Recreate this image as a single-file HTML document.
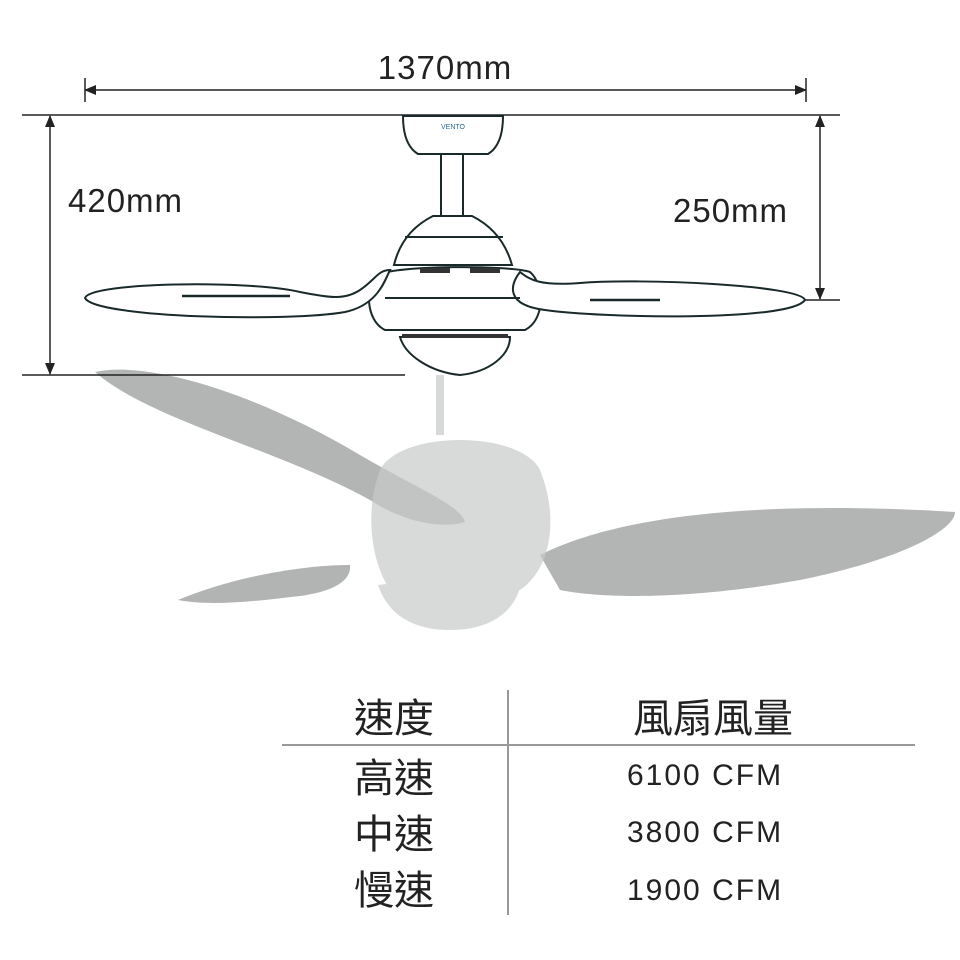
<!DOCTYPE html>
<html><head><meta charset="utf-8"><style>
html,body{margin:0;padding:0;background:#fff;}
svg{display:block}
text{font-family:"Liberation Sans","Noto Sans CJK TC",sans-serif;fill:#222}
</style></head><body>
<svg width="960" height="960" viewBox="0 0 960 960" xmlns="http://www.w3.org/2000/svg">
<defs>
<marker id="a" markerWidth="12" markerHeight="10" refX="11" refY="5" orient="auto-start-reverse" markerUnits="userSpaceOnUse">
<path d="M0,0 L12,5 L0,10 z" fill="#222"/></marker>
</defs>
<!-- ghost fan -->
<g fill="#a4a8a6" opacity="0.85">
<path d="M95,372 C150,360 260,395 360,455 C420,490 460,505 465,522 C440,530 400,520 370,500 C280,450 150,420 95,372 Z"/>
<path d="M540,555 C620,515 760,500 955,512 C955,530 900,560 800,580 C700,598 610,600 560,590 Z"/>
<path d="M178,600 C230,578 300,565 350,565 C352,582 330,592 300,596 C250,602 210,606 178,600 Z"/>
</g>
<g fill="#c8cbca" opacity="0.7">
<path d="M380,470 C400,430 520,430 540,470 C560,520 550,570 520,590 C480,600 420,600 390,590 C370,560 365,510 380,470 Z"/>
<path d="M378,585 C420,580 480,580 520,588 C510,620 480,630 450,630 C420,630 390,620 378,585 Z"/>
<rect x="436" y="375" width="8" height="60"/>
</g>
<!-- dimension lines -->
<g stroke="#222" stroke-width="1.5" fill="none">
<line x1="85" y1="90" x2="806" y2="90" marker-start="url(#a)" marker-end="url(#a)"/>
<line x1="85" y1="78" x2="85" y2="102"/><line x1="806" y1="78" x2="806" y2="102"/>
<line x1="22" y1="115" x2="840" y2="115"/>
<line x1="50" y1="116" x2="50" y2="374" marker-start="url(#a)" marker-end="url(#a)"/>
<line x1="22" y1="375" x2="405" y2="375"/>
<line x1="820" y1="116" x2="820" y2="299" marker-start="url(#a)" marker-end="url(#a)"/>
<line x1="800" y1="300" x2="840" y2="300"/>
</g>
<g font-size="33" letter-spacing="1">
<text x="445" y="79" text-anchor="middle">1370mm</text>
<text x="68" y="212">420mm</text>
<text x="673" y="222">250mm</text>
</g>
<!-- fan drawing -->
<g stroke="#1a2a2a" stroke-width="2" fill="#fff">
<path d="M403,116 L503,116 C503,135 498,148 488,154 L418,154 C408,148 403,135 403,116 Z"/>
<rect x="441" y="154" width="22" height="62"/>
<path d="M433,216 L472,216 C490,225 505,240 512,265 L394,265 C400,240 415,225 433,216 Z"/>
<line x1="405" y1="237" x2="503" y2="237"/>
<path d="M378,275 C395,265 510,265 530,272 C545,285 545,320 525,330 L385,330 C365,320 365,285 378,275 Z" fill="none"/>
<path d="M85,298 C90,282 250,280 300,292 C330,298 345,300 360,290 C375,280 378,270 390,270 C385,280 378,305 345,312 C290,322 95,318 85,298 Z"/>
<line x1="182" y1="296" x2="290" y2="296" stroke-width="2.5"/>
<path d="M805,300 C800,285 640,278 580,283 C540,286 530,280 520,272 C510,285 505,305 545,310 C600,318 790,322 805,300 Z"/>
<line x1="590" y1="300" x2="660" y2="300" stroke-width="2.5"/>
<line x1="385" y1="298" x2="520" y2="298"/>
<path d="M400,337 L510,337 C510,355 490,372 460,375 C430,372 405,355 400,337 Z"/>
</g>
<g fill="#333"><rect x="420" y="268" width="30" height="5"/><rect x="470" y="268" width="30" height="5"/><rect x="402" y="334" width="106" height="4"/></g>
<text x="453" y="129" font-size="7" text-anchor="middle" font-family="Liberation Serif" style="fill:#2a6a8a">VENTO</text>
<!-- table -->
<g stroke="#999" stroke-width="2">
<line x1="508" y1="690" x2="508" y2="915"/>
<line x1="282" y1="745" x2="915" y2="745"/>
</g>
<g font-size="40">
<text x="354" y="732">速度</text>
<text x="633" y="732">風扇風量</text>
<text x="354" y="792">高速</text>
<text x="354" y="848">中速</text>
<text x="354" y="904">慢速</text>
</g>
<g font-size="30" letter-spacing="2">
<text x="627" y="785">6100 CFM</text>
<text x="627" y="842">3800 CFM</text>
<text x="627" y="900">1900 CFM</text>
</g>
</svg>
</body></html>
